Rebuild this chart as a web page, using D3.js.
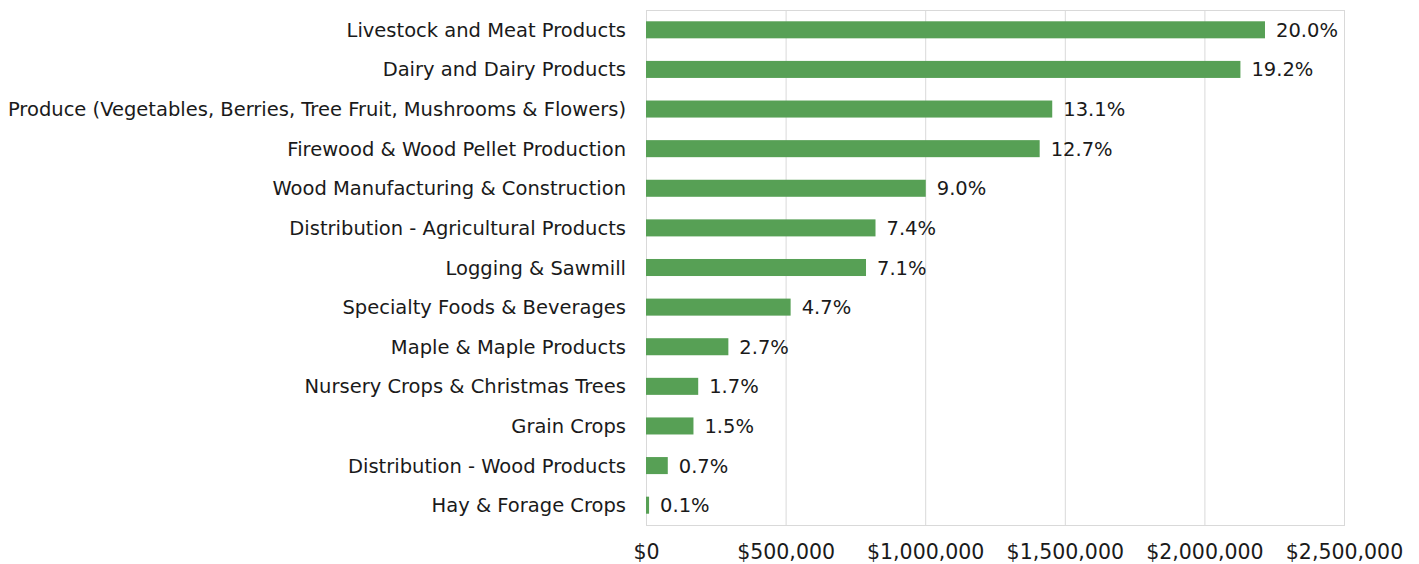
<!DOCTYPE html>
<html>
<head>
<meta charset="utf-8">
<script src="https://cdn.jsdelivr.net/npm/d3@7"></script>
<style>
    body { margin: 0; background: #fff; }
    text { font-family: "DejaVu Sans", sans-serif; fill: #1a1a1a; }
</style>
</head>
<body>
<div id="chart"></div>
<script>
// categories, top to bottom
let categories = [
    "Livestock and Meat Products",
    "Dairy and Dairy Products",
    "Produce (Vegetables, Berries, Tree Fruit, Mushrooms & Flowers)",
    "Firewood & Wood Pellet Production",
    "Wood Manufacturing & Construction",
    "Distribution - Agricultural Products",
    "Logging & Sawmill",
    "Specialty Foods & Beverages",
    "Maple & Maple Products",
    "Nursery Crops & Christmas Trees",
    "Grain Crops",
    "Distribution - Wood Products",
    "Hay & Forage Crops"
];

// sales in dollars
let values = [2217000, 2129000, 1455000, 1410000, 1002000, 822000, 788000, 518000, 295000, 187000, 170000, 78000, 11000];

// percent labels
let shares = ["20.0%", "19.2%", "13.1%", "12.7%", "9.0%", "7.4%", "7.1%", "4.7%", "2.7%", "1.7%", "1.5%", "0.7%", "0.1%"];

let xTicks = [0, 500000, 1000000, 1500000, 2000000, 2500000];

let margin = {top: 10, right: 75, bottom: 39, left: 646};
let fullW = 1419, fullH = 564;
let width = fullW - margin.left - margin.right;
let height = fullH - margin.top - margin.bottom;

let svg = d3.select("#chart").append("svg")
    .attr("width", fullW)
    .attr("height", fullH)
    .append("g")
    .attr("transform", "translate(" + margin.left + "," + margin.top + ")");

let x = d3.scaleLinear()
    .domain([0, 2500000])
    .range([0, width]);

let y = d3.scaleBand()
    .domain(categories)
    .range([0, height])
    .paddingInner(0.57)
    .paddingOuter(0.285);

// gridlines
svg.append("g")
    .selectAll("line")
    .data(xTicks)
    .enter().append("line")
    .attr("x1", d => x(d) + 0.5)
    .attr("x2", d => x(d) + 0.5)
    .attr("y1", 0)
    .attr("y2", height)
    .attr("stroke", "#d9d9d9")
    .attr("stroke-width", 1);

// frame
svg.append("rect")
    .attr("x", 0.5)
    .attr("y", 0.5)
    .attr("width", width)
    .attr("height", height)
    .attr("fill", "none")
    .attr("stroke", "#d9d9d9");

// x axis
let xAxis = d3.axisBottom(x)
    .tickValues(xTicks)
    .tickSize(0)
    .tickPadding(19)
    .tickFormat(d => "$" + d3.format(",")(d));

svg.append("g")
    .attr("transform", "translate(0," + height + ")")
    .call(xAxis)
    .call(g => g.select(".domain").remove())
    .selectAll("text")
    .attr("font-size", 20.5)
    .style("font-family", "'DejaVu Sans', sans-serif")
    .attr("fill", "#1a1a1a");

// y axis labels
let yAxis = d3.axisLeft(y)
    .tickSize(0)
    .tickPadding(20);

svg.append("g")
    .call(yAxis)
    .call(g => g.select(".domain").remove())
    .selectAll("text")
    .attr("font-size", 19.5)
    .attr("dy", "0.36em")
    .style("font-family", "'DejaVu Sans', sans-serif")
    .attr("fill", "#1a1a1a");

// bars
svg.selectAll(".bar")
    .data(categories)
    .enter().append("rect")
    .attr("class", "bar")
    .attr("x", 0)
    .attr("y", d => y(d))
    .attr("width", (d, i) => x(values[i]))
    .attr("height", y.bandwidth())
    .attr("fill", "#57a055");

// value labels
svg.selectAll(".val")
    .data(categories)
    .enter().append("text")
    .attr("class", "val")
    .attr("x", (d, i) => x(values[i]) + 11)
    .attr("y", d => y(d) + y.bandwidth() / 2)
    .attr("dy", "0.36em")
    .attr("font-size", 19.5)
    .text((d, i) => shares[i]);
</script>
</body>
</html>
